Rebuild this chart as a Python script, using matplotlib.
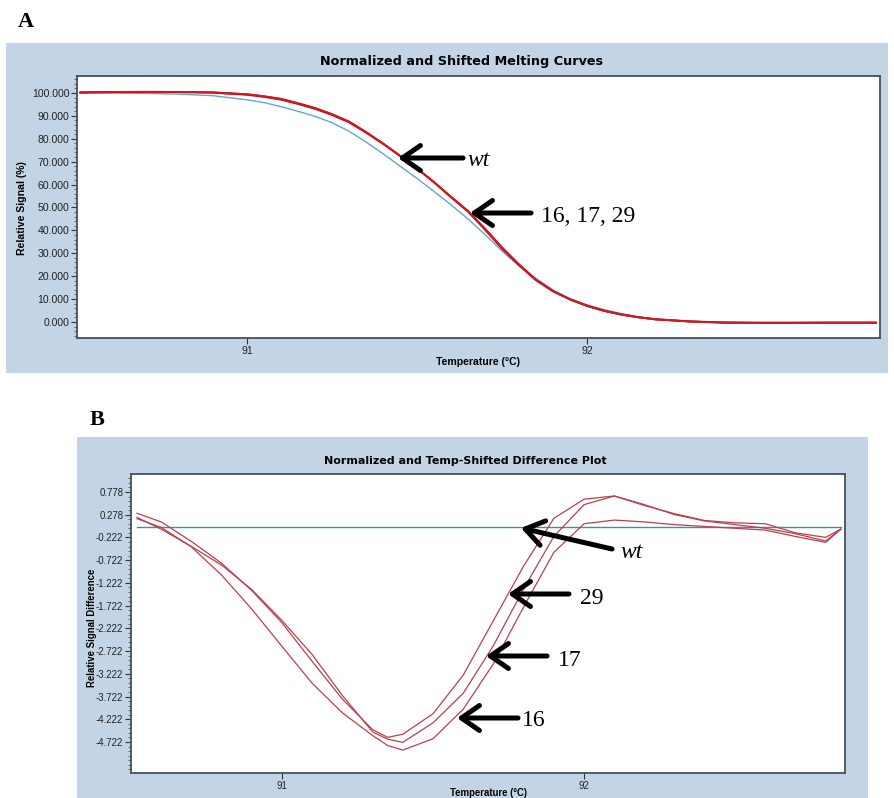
import matplotlib
matplotlib.use("Agg")
import matplotlib.pyplot as plt
from matplotlib.patches import Rectangle
from matplotlib.ticker import AutoMinorLocator, FixedLocator

# ---------------- Data: panel A (melting curves) ----------------
temp_a = [90.51, 90.6, 90.7, 90.8, 90.9, 91.0, 91.05, 91.1, 91.15, 91.2, 91.25, 91.3,
          91.35, 91.4, 91.45, 91.5, 91.55, 91.6, 91.65, 91.7, 91.75, 91.8, 91.85, 91.9,
          91.95, 92.0, 92.05, 92.1, 92.15, 92.2, 92.3, 92.4, 92.5, 92.6, 92.7, 92.85]
signal_wt = [100.0, 100.0, 99.8, 99.5, 98.8, 97.0, 95.8, 94.0, 92.0, 89.8, 87.0, 83.3,
             78.6, 73.5, 68.1, 62.7, 57.0, 51.2, 45.0, 38.2, 31.0, 24.5, 19.0, 14.0,
             10.2, 7.5, 5.4, 3.7, 2.3, 1.3, 0.3, -0.2, -0.3, -0.3, -0.3, -0.3]
signal_16 = [100.2, 100.3, 100.4, 100.4, 100.1, 99.2, 98.3, 97.1, 95.2, 93.1, 90.4, 87.2,
             82.7, 77.8, 72.5, 67.0, 61.0, 54.5, 48.2, 40.3, 32.0, 24.8, 18.2, 13.4,
             9.9, 7.1, 4.9, 3.3, 2.1, 1.2, 0.3, -0.2, -0.3, -0.3, -0.3, -0.3]
signal_17 = [100.2, 100.4, 100.5, 100.4, 100.2, 99.4, 98.5, 97.3, 95.4, 93.3, 90.6, 87.4,
             82.9, 77.9, 72.6, 67.1, 61.1, 54.7, 48.5, 40.8, 32.6, 25.2, 18.5, 13.5,
             9.9, 7.1, 4.9, 3.3, 2.1, 1.2, 0.2, -0.3, -0.4, -0.4, -0.3, -0.3]
signal_29 = [100.3, 100.4, 100.5, 100.5, 100.3, 99.5, 98.6, 97.5, 95.6, 93.5, 90.8, 87.6,
             83.0, 78.0, 72.6, 67.0, 61.0, 54.5, 48.3, 40.5, 32.3, 25.0, 18.3, 13.4,
             9.8, 7.0, 4.8, 3.2, 2.0, 1.1, 0.2, -0.3, -0.4, -0.4, -0.3, -0.3]
yticks_a = [0, 10, 20, 30, 40, 50, 60, 70, 80, 90, 100]
xticks = [91, 92]

# ---------------- Data: panel B (difference plot) ----------------
temp_b = [90.52, 90.6, 90.7, 90.8, 90.9, 91.0, 91.1, 91.2, 91.3, 91.35, 91.4, 91.5, 91.6,
          91.7, 91.8, 91.9, 92.0, 92.1, 92.2, 92.3, 92.4, 92.5, 92.6, 92.7, 92.8, 92.85]
diff_wt = [0.0] * len(temp_b)
diff_29 = [0.31, 0.12, -0.31, -0.79, -1.39, -2.10, -2.95, -3.78, -4.45, -4.62, -4.55, -4.10,
           -3.25, -2.05, -0.85, 0.20, 0.62, 0.69, 0.48, 0.30, 0.15, 0.10, 0.08, -0.12, -0.22, -0.04]
diff_17 = [0.22, -0.04, -0.42, -0.83, -1.37, -2.05, -2.80, -3.70, -4.50, -4.66, -4.73, -4.30,
           -3.65, -2.60, -1.35, -0.20, 0.50, 0.69, 0.50, 0.28, 0.14, 0.06, -0.02, -0.14, -0.30, -0.04]
diff_16 = [0.19, 0.00, -0.43, -1.05, -1.80, -2.62, -3.43, -4.08, -4.58, -4.80, -4.90, -4.65,
           -4.00, -3.00, -1.75, -0.55, 0.08, 0.16, 0.12, 0.06, 0.02, -0.02, -0.06, -0.20, -0.33, -0.04]
yticks_b = [0.778, 0.278, -0.222, -0.722, -1.222, -1.722, -2.222, -2.722, -3.222, -3.722, -4.222, -4.722]

# ---------------- Layout helpers ----------------
W, H = 894, 798
fig = plt.figure(figsize=(W / 100, H / 100), dpi=100)
fig.patch.set_facecolor("white")

def fx(px):
    return px / W

def fy(py):
    return 1 - py / H

BG = "#c2d4e6"
SPINE = "#4a4f57"
TICKFONT = "Liberation Sans"

fig.patches.append(Rectangle((fx(6), fy(373)), fx(888) - fx(6), fy(43) - fy(373),
                             transform=fig.transFigure, facecolor=BG, edgecolor="none", zorder=-10))
fig.patches.append(Rectangle((fx(77), fy(798)), fx(868) - fx(77), fy(437) - fy(798),
                             transform=fig.transFigure, facecolor=BG, edgecolor="none", zorder=-10))

def style_axes(ax, fs, minor_y):
    for s in ax.spines.values():
        s.set_color(SPINE)
        s.set_linewidth(1.3)
    ax.tick_params(axis="both", which="major", length=4, width=0.8, colors="#333333",
                   labelsize=fs, pad=1.5)
    ax.tick_params(axis="y", which="minor", length=2, width=0.6, colors="#555555")
    ax.tick_params(axis="x", which="minor", length=0)
    for lab in ax.get_xticklabels() + ax.get_yticklabels():
        lab.set_fontfamily(TICKFONT)
        lab.set_color("#222222")
    ax.yaxis.set_minor_locator(AutoMinorLocator(minor_y))

# ---------------- Panel A ----------------
axA = fig.add_axes([fx(77), fy(338), fx(880) - fx(77), fy(76) - fy(338)])
axA.set_zorder(1)
axA.set_facecolor("white")
axA.plot(temp_a, signal_wt, color="#5fa8cc", lw=1.0, zorder=3)
axA.plot(temp_a, signal_16, color="#b0182a", lw=1.4, zorder=4)
axA.plot(temp_a, signal_17, color="#c8101c", lw=1.4, zorder=4)
axA.plot(temp_a, signal_29, color="#d01a20", lw=1.2, zorder=5)
axA.set_xlim(90.5, 92.862)
axA.set_ylim(-7.0, 107.4)
axA.set_yticks(yticks_a)
axA.set_yticklabels([f"{v:.3f}" for v in yticks_a])
axA.set_xticks(xticks)
axA.set_xticklabels([str(v) for v in xticks])
style_axes(axA, 7.6, 5)
fig.text(fx(22), fy(208), "Relative Signal (%)", rotation=90, ha="center", va="center",
         fontsize=7.6, fontweight="bold", family=TICKFONT)
fig.text(fx(478), fy(362), "Temperature (°C)", ha="center", va="center",
         fontsize=7.6, fontweight="bold", family=TICKFONT)
fig.text(fx(462), fy(62), "Normalized and Shifted Melting Curves", ha="center", va="center",
         fontsize=9.2, fontweight="bold", family="DejaVu Sans")
fig.text(fx(18), fy(22), "A", ha="left", va="center", fontsize=16, fontweight="bold",
         family="Liberation Serif")

# ---------------- Panel B ----------------
axB = fig.add_axes([fx(131), fy(773), fx(845) - fx(131), fy(474) - fy(773)])
axB.set_zorder(1)
axB.set_facecolor("white")
axB.plot(temp_b, diff_wt, color="#3a8db5", lw=1.0, zorder=3)
axB.plot(temp_b, diff_16, color="#b8404c", lw=0.9, zorder=4)
axB.plot(temp_b, diff_17, color="#b8404c", lw=0.9, zorder=4)
axB.plot(temp_b, diff_29, color="#b8404c", lw=0.9, zorder=4)
axB.set_xlim(90.5, 92.864)
axB.set_ylim(-5.404, 1.174)
axB.yaxis.set_major_locator(FixedLocator(yticks_b))
axB.set_yticklabels([f"{v:.3f}" for v in yticks_b])
axB.set_xticks(xticks)
axB.set_xticklabels([str(v) for v in xticks])
style_axes(axB, 6.9, 5)
fig.text(fx(92), fy(628), "Relative Signal Difference", rotation=90, ha="center", va="center",
         fontsize=6.9, fontweight="bold", family=TICKFONT)
fig.text(fx(488), fy(793), "Temperature (°C)", ha="center", va="center",
         fontsize=6.9, fontweight="bold", family=TICKFONT)
fig.text(fx(465), fy(461), "Normalized and Temp-Shifted Difference Plot", ha="center", va="center",
         fontsize=8.0, fontweight="bold", family="DejaVu Sans")
fig.text(fx(90), fy(420), "B", ha="left", va="center", fontsize=16, fontweight="bold",
         family="Liberation Serif")

# ---------------- Annotations (arrows + labels) ----------------
def arrow(tip, tail):
    ann = plt.Annotation("", xy=(fx(tip[0]), fy(tip[1])), xycoords="figure fraction",
                         xytext=(fx(tail[0]), fy(tail[1])), textcoords="figure fraction",
                         arrowprops=dict(arrowstyle="->,head_length=0.65,head_width=0.45",
                                         lw=3.6, color="black", shrinkA=0, shrinkB=0,
                                         mutation_scale=20))
    ann.set_zorder(10)
    fig.add_artist(ann)

def label(x, y, s, italic=False):
    fig.text(fx(x), fy(y), s, ha="left", va="center", fontsize=17, family="Liberation Serif",
             style="italic" if italic else "normal", color="black", zorder=10)

arrow((398, 158), (463, 158)); label(467, 161, "wt", italic=True)
arrow((470, 213), (531, 213)); label(541, 217, "16, 17, 29")
arrow((521, 528), (612, 549)); label(620, 553, "wt", italic=True)
arrow((508, 594), (569, 594)); label(580, 598, "29")
arrow((486, 656), (547, 656)); label(558, 660, "17")
arrow((457, 718), (518, 718)); label(522, 721, "16")

fig.savefig("out.png", dpi=100)
